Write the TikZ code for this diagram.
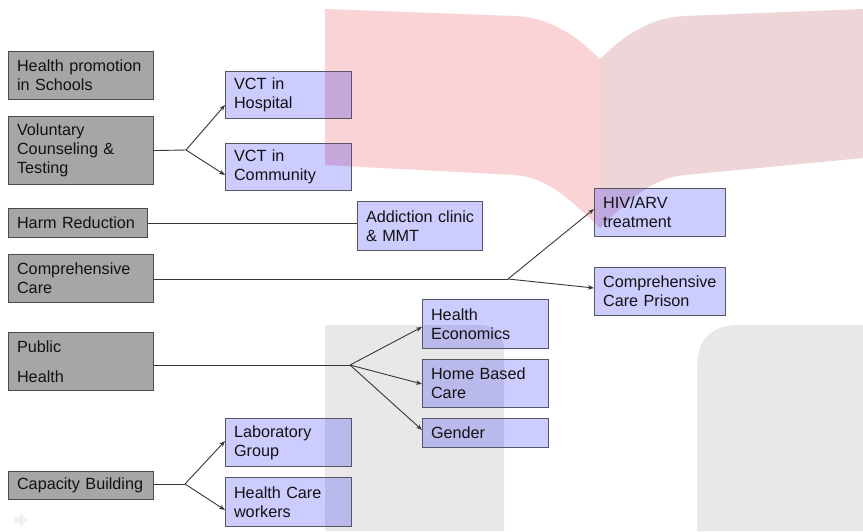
\documentclass[tikz,border=0pt]{standalone}
\usepackage{fontspec}
\setmainfont{Liberation Sans}
\usetikzlibrary{arrows.meta}
\definecolor{pageL}{RGB}{249,211,213}
\definecolor{pageR}{RGB}{238,213,215}
\definecolor{bgGray}{RGB}{232,232,232}
\definecolor{boxGray}{RGB}{166,166,166}
\definecolor{edgeGray}{RGB}{75,75,75}
\definecolor{edgeBlue}{RGB}{85,85,100}
\definecolor{lineCol}{RGB}{55,55,55}
\definecolor{txt}{RGB}{18,18,18}
\tikzset{
  basebox/.style={rectangle, anchor=north west, line width=1.1pt, inner xsep=8.5pt, inner ysep=0pt,
    align=left, text=txt, font=\fontsize{16.2}{19}\selectfont},
  gbox/.style={basebox, draw=edgeGray, fill=boxGray},
  bbox/.style={basebox, draw=edgeBlue, fill=blue, fill opacity=0.2, text opacity=1, draw opacity=1},
  conn/.style={draw=lineCol, line width=0.9pt},
  arr/.style={conn, -{Stealth[length=6pt,width=4.5pt]}}
}
\begin{document}
\begin{tikzpicture}[x=1pt,y=-1pt]
\useasboundingbox (0,0) rectangle (863,531);
\fill[white] (0,0) rectangle (863,531);
% background book
\fill[pageL] (325,9) -- (515,16) .. controls (552,18) and (576,36) .. (600,59)
  -- (600,228) .. controls (576,206) and (552,178) .. (515,175) -- (325,165) -- cycle;
\fill[pageR] (600,59) .. controls (624,36) and (648,18) .. (685,16) -- (863,9)
  -- (863,158) -- (685,175) .. controls (650,178) and (624,205) .. (600,228) -- cycle;
% background gray blocks
\fill[bgGray] (325,531) -- (325,325) -- (480,325) .. controls (494,325) and (504,335) .. (504,350) -- (504,531) -- cycle;
\fill[bgGray] (863,531) -- (697,531) -- (697,368) .. controls (697,340) and (710,325) .. (740,325) -- (863,325) -- cycle;
% faint icon
\fill[gray!12] (14,517) -- (20,517) -- (20,513) -- (28,520) -- (20,527) -- (20,523) -- (14,523) -- cycle;
% left column
\node[gbox, minimum width=145pt, minimum height=48pt, text width=128pt] (hp) at (8,51) {\mbox{Health promotion}\\in Schools};
\node[gbox, minimum width=145pt, minimum height=68pt, text width=128pt] (vct) at (8,116) {Voluntary\\Counseling \&\\Testing};
\node[gbox, minimum width=139pt, minimum height=29pt, text width=122pt] (harm) at (8,208) {\mbox{Harm Reduction}};
\node[gbox, minimum width=145pt, minimum height=48pt, text width=128pt] (comp) at (8,254) {Comprehensive\\Care};
\node[gbox, minimum width=145pt, minimum height=58pt, text width=128pt] (pub) at (8,332) {Public\\[11pt]Health};
\node[gbox, minimum width=145pt, minimum height=28pt, text width=128pt] (cap) at (8,471) {\mbox{Capacity Building}};
% blue boxes
\node[bbox, minimum width=126pt, minimum height=47pt, text width=109pt] (vh) at (225,71) {VCT in\\Hospital};
\node[bbox, minimum width=126pt, minimum height=47pt, text width=109pt] (vc) at (225,143) {VCT in\\Community};
\node[bbox, minimum width=125pt, minimum height=49pt, text width=108pt] (add) at (357,201) {\mbox{Addiction clinic}\\\& MMT};
\node[bbox, minimum width=131pt, minimum height=48pt, text width=114pt] (hiv) at (594,188) {HIV/ARV\\treatment};
\node[bbox, minimum width=131pt, minimum height=48pt, text width=114pt] (pri) at (594,267) {Comprehensive\\\mbox{Care Prison}};
\node[bbox, minimum width=126pt, minimum height=49pt, text width=109pt] (he) at (422,299) {Health\\Economics};
\node[bbox, minimum width=126pt, minimum height=48pt, text width=109pt] (hb) at (422,359) {\mbox{Home Based}\\Care};
\node[bbox, minimum width=126pt, minimum height=29pt, text width=109pt] (gen) at (422,418) {Gender};
\node[bbox, minimum width=126pt, minimum height=48pt, text width=109pt] (lab) at (225,418) {Laboratory\\Group};
\node[bbox, minimum width=126pt, minimum height=49pt, text width=109pt] (hcw) at (225,477) {\mbox{Health Care}\\workers};
% connectors
\coordinate (b1) at (186,150);
\coordinate (b2) at (508,279);
\coordinate (b3) at (350,365);
\coordinate (b4) at (185,484);
\draw[conn] (vct.east) -- (b1);
\draw[arr] (b1) -- (vh.west |- 0,105);
\draw[arr] (b1) -- (vc.west |- 0,175);
\draw[conn] (harm.east) -- (add.west |- harm.east);
\draw[conn] (comp.east |- b2) -- (b2);
\draw[arr] (b2) -- (hiv.west |- 0,209);
\draw[arr] (b2) -- (pri.west |- 0,288);
\draw[conn] (pub.east |- b3) -- (b3);
\draw[arr] (b3) -- (he.west |- 0,327);
\draw[arr] (b3) -- (hb.west |- 0,384);
\draw[arr] (b3) -- (gen.west |- 0,430);
\draw[conn] (cap.east |- b4) -- (b4);
\draw[arr] (b4) -- (lab.west |- 0,441);
\draw[arr] (b4) -- (hcw.west |- 0,510);
\end{tikzpicture}
\end{document}
